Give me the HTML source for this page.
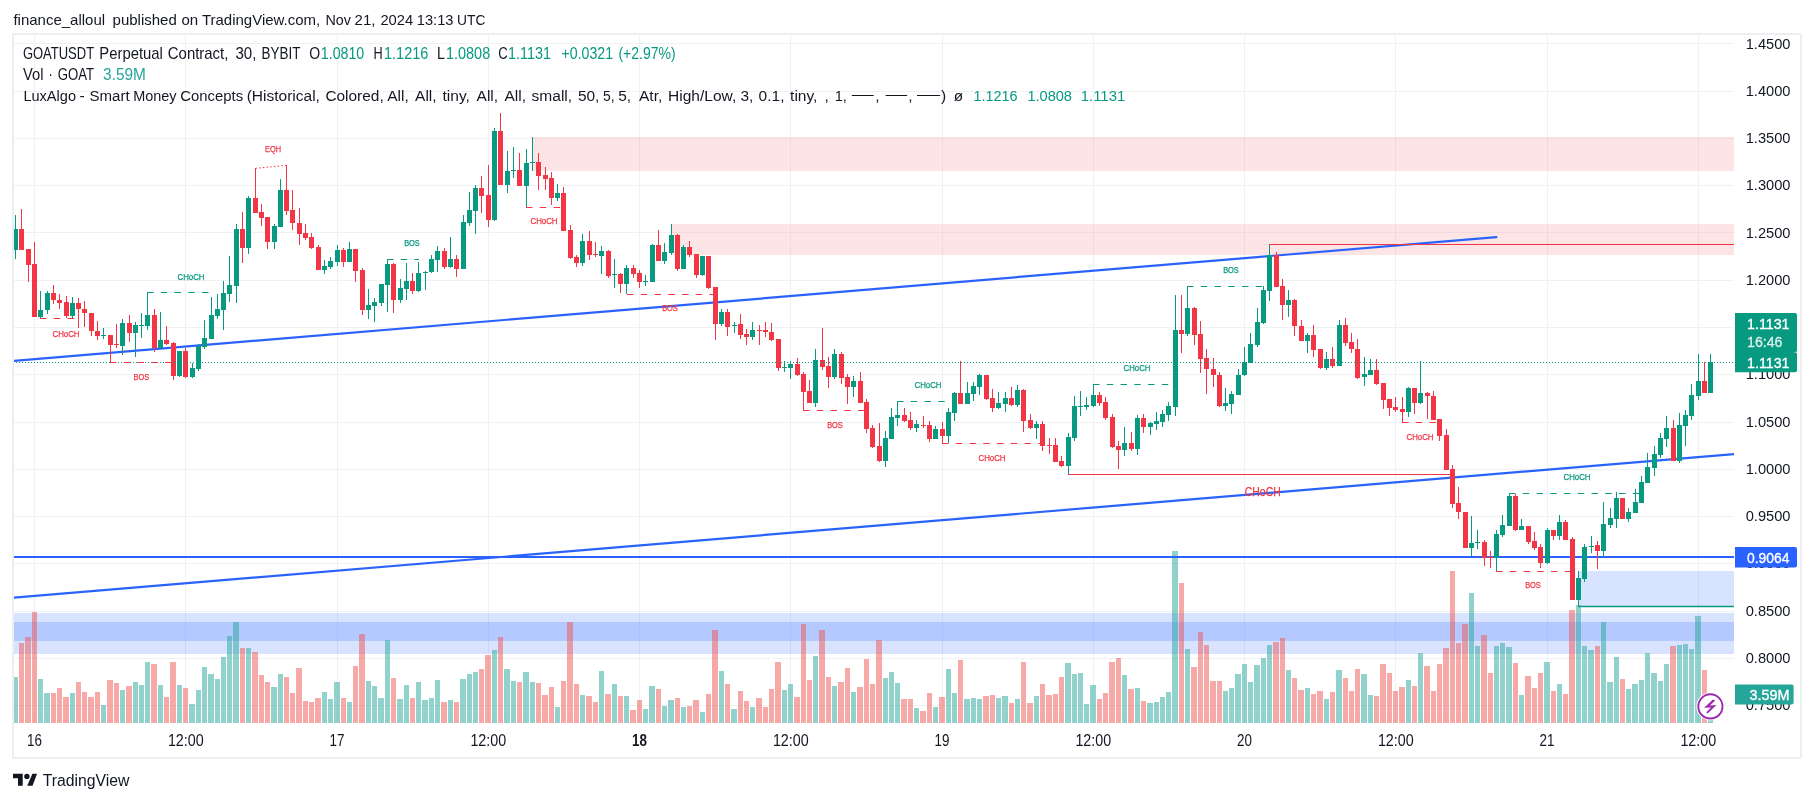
<!DOCTYPE html><html><head><meta charset="utf-8"><title>GOATUSDT chart</title><style>
html,body{margin:0;padding:0;background:#fff;}body{width:1814px;height:802px;overflow:hidden;position:relative;font-family:"Liberation Sans",sans-serif;}
svg{position:absolute;left:0;top:0;will-change:transform;}text{font-family:"Liberation Sans",sans-serif;}
</style></head><body>
<svg width="1814" height="802" viewBox="0 0 1814 802">
<rect x="0" y="0" width="1814" height="802" fill="#ffffff"/>
<path d="M14 43.5H1734M14 91.5H1734M14 138.5H1734M14 185.5H1734M14 232.5H1734M14 280.5H1734M14 327.5H1734M14 374.5H1734M14 422.5H1734M14 469.5H1734M14 516.5H1734M14 563.5H1734M14 611.5H1734M14 658.5H1734M14 705.5H1734M34.5 35V723M185.5 35V723M337.5 35V723M488.5 35V723M639.5 35V723M790.5 35V723M942.5 35V723M1093.5 35V723M1244.5 35V723M1395.5 35V723M1547.5 35V723M1698.5 35V723" stroke="#f0f1f3" stroke-width="1" fill="none" shape-rendering="crispEdges"/>
<rect x="13" y="34" width="1788" height="724" fill="none" stroke="#eceef2" stroke-width="2" shape-rendering="crispEdges"/>
<g clip-path="url(#clip)">
<defs><clipPath id="clip"><rect x="14" y="35" width="1720" height="722"/></clipPath></defs>
<rect x="533" y="137" width="1201" height="34" fill="rgba(247,124,128,0.2)"/>
<rect x="672" y="224" width="1062" height="31" fill="rgba(247,124,128,0.2)"/>
<rect x="14" y="613" width="1720" height="41" fill="rgba(41,98,255,0.18)"/>
<rect x="14" y="622" width="1720" height="19" fill="rgba(41,98,255,0.2)"/>
<rect x="1578" y="571" width="156" height="36" fill="rgba(41,98,255,0.18)"/>
<path d="M1578 606.5H1734" stroke="#089981" stroke-width="1.5" fill="none"/>
<path d="M13 677h5v46h-5zM38 679h5v44h-5zM44 693h6v30h-6zM70 693h5v30h-5zM101 705h5v18h-5zM120 690h5v33h-5zM133 682h5v41h-5zM139 685h5v38h-5zM145 662h5v61h-5zM158 685h5v38h-5zM177 685h5v38h-5zM189 704h6v19h-6zM196 690h5v33h-5zM202 667h5v56h-5zM208 674h6v49h-6zM215 679h5v44h-5zM221 657h5v66h-5zM227 636h5v87h-5zM233 622h6v101h-6zM246 648h5v75h-5zM271 687h6v36h-6zM278 674h5v49h-5zM322 692h5v31h-5zM328 699h5v24h-5zM334 682h6v41h-6zM347 702h5v21h-5zM366 681h5v42h-5zM372 686h5v37h-5zM378 698h6v25h-6zM385 640h5v83h-5zM397 699h6v24h-6zM404 685h5v38h-5zM416 682h5v41h-5zM422 700h6v23h-6zM429 698h5v25h-5zM435 680h5v43h-5zM448 700h5v23h-5zM460 679h6v44h-6zM467 674h5v49h-5zM473 672h5v51h-5zM492 650h5v73h-5zM504 669h6v54h-6zM511 681h5v42h-5zM523 672h6v51h-6zM530 682h5v41h-5zM555 707h5v16h-5zM580 695h5v28h-5zM599 671h5v52h-5zM612 684h5v39h-5zM624 696h5v27h-5zM643 709h5v14h-5zM649 686h6v37h-6zM662 706h5v17h-5zM668 700h6v23h-6zM681 707h5v16h-5zM700 712h5v11h-5zM719 671h5v52h-5zM731 709h6v14h-6zM750 707h5v16h-5zM782 690h5v33h-5zM788 684h5v39h-5zM813 656h5v67h-5zM832 686h5v37h-5zM851 692h5v31h-5zM883 678h5v45h-5zM889 672h5v51h-5zM895 683h5v40h-5zM914 708h5v15h-5zM933 707h5v16h-5zM946 669h5v54h-5zM952 693h5v30h-5zM964 699h6v24h-6zM971 698h5v25h-5zM977 699h5v24h-5zM996 698h5v25h-5zM1002 696h6v27h-6zM1015 699h5v24h-5zM1034 696h5v27h-5zM1065 663h6v60h-6zM1072 674h5v49h-5zM1078 673h5v50h-5zM1084 704h5v19h-5zM1090 685h6v38h-6zM1122 675h5v48h-5zM1135 688h5v35h-5zM1147 703h6v20h-6zM1154 702h5v21h-5zM1160 697h5v26h-5zM1166 692h5v31h-5zM1172 551h6v172h-6zM1185 649h5v74h-5zM1223 691h5v32h-5zM1229 688h5v35h-5zM1235 674h6v49h-6zM1242 664h5v59h-5zM1248 682h5v41h-5zM1254 665h6v58h-6zM1261 658h5v65h-5zM1267 645h5v78h-5zM1286 670h5v53h-5zM1305 688h5v35h-5zM1324 699h5v24h-5zM1336 670h6v53h-6zM1361 674h6v49h-6zM1368 695h5v28h-5zM1406 680h5v43h-5zM1418 653h5v70h-5zM1469 593h5v130h-5zM1475 646h5v77h-5zM1494 646h5v77h-5zM1500 643h5v80h-5zM1506 647h6v76h-6zM1519 695h5v28h-5zM1544 662h6v61h-6zM1557 684h5v39h-5zM1576 605h5v118h-5zM1582 646h5v77h-5zM1588 650h6v73h-6zM1601 622h5v101h-5zM1607 682h6v41h-6zM1614 657h5v66h-5zM1626 689h5v34h-5zM1632 684h6v39h-6zM1639 680h5v43h-5zM1645 653h5v70h-5zM1651 673h6v50h-6zM1658 681h5v42h-5zM1664 664h5v59h-5zM1677 645h5v78h-5zM1683 644h5v79h-5zM1689 649h5v74h-5zM1695 616h6v107h-6zM1708 720h5v3h-5z" fill="rgba(38,166,154,0.5)" shape-rendering="crispEdges"/>
<path d="M19 643h5v80h-5zM25 637h6v86h-6zM32 612h5v111h-5zM51 693h5v30h-5zM57 688h5v35h-5zM63 697h6v26h-6zM76 682h5v41h-5zM82 692h5v31h-5zM88 697h6v26h-6zM95 692h5v31h-5zM107 680h6v43h-6zM114 683h5v40h-5zM126 686h6v37h-6zM151 664h6v59h-6zM164 697h5v26h-5zM170 662h6v61h-6zM183 688h5v35h-5zM240 648h5v75h-5zM252 652h6v71h-6zM259 675h5v48h-5zM265 682h5v41h-5zM284 677h5v46h-5zM290 693h5v30h-5zM296 668h6v55h-6zM303 701h5v22h-5zM309 702h5v21h-5zM315 698h6v25h-6zM341 698h5v25h-5zM353 666h5v57h-5zM359 634h6v89h-6zM391 678h5v45h-5zM410 698h5v25h-5zM441 702h6v21h-6zM454 702h5v21h-5zM479 669h5v54h-5zM485 655h6v68h-6zM498 637h5v86h-5zM517 682h5v41h-5zM536 683h5v40h-5zM542 695h6v28h-6zM549 687h5v36h-5zM561 681h5v42h-5zM567 622h6v101h-6zM574 684h5v39h-5zM586 696h6v27h-6zM593 702h5v21h-5zM605 694h6v29h-6zM618 696h5v27h-5zM630 710h6v13h-6zM637 700h5v23h-5zM656 689h5v34h-5zM675 698h5v25h-5zM687 706h5v17h-5zM693 700h6v23h-6zM706 694h5v29h-5zM712 630h6v93h-6zM725 684h5v39h-5zM738 691h5v32h-5zM744 701h5v22h-5zM756 698h6v25h-6zM763 707h5v16h-5zM769 689h5v34h-5zM775 662h6v61h-6zM794 697h6v26h-6zM801 624h5v99h-5zM807 680h5v43h-5zM819 630h6v93h-6zM826 677h5v46h-5zM838 682h6v41h-6zM845 668h5v55h-5zM857 687h6v36h-6zM864 659h5v64h-5zM870 684h5v39h-5zM876 640h6v83h-6zM901 699h6v24h-6zM908 699h5v24h-5zM920 711h6v12h-6zM927 693h5v30h-5zM939 697h6v26h-6zM958 660h5v63h-5zM983 696h6v27h-6zM990 695h5v28h-5zM1009 703h5v20h-5zM1021 662h5v61h-5zM1027 703h6v20h-6zM1040 684h5v39h-5zM1046 695h6v28h-6zM1053 694h5v29h-5zM1059 677h5v46h-5zM1097 699h5v24h-5zM1103 693h5v30h-5zM1109 662h6v61h-6zM1116 658h5v65h-5zM1128 689h6v34h-6zM1141 701h5v22h-5zM1179 583h5v140h-5zM1191 667h6v56h-6zM1198 632h5v91h-5zM1204 645h5v78h-5zM1210 681h6v42h-6zM1217 681h5v42h-5zM1273 642h6v81h-6zM1280 638h5v85h-5zM1292 678h5v45h-5zM1298 690h6v33h-6zM1311 694h5v29h-5zM1317 691h6v32h-6zM1330 692h5v31h-5zM1343 678h5v45h-5zM1349 691h5v32h-5zM1355 669h5v54h-5zM1374 696h5v27h-5zM1380 664h6v59h-6zM1387 673h5v50h-5zM1393 691h5v32h-5zM1399 687h6v36h-6zM1412 686h5v37h-5zM1424 666h6v57h-6zM1431 691h5v32h-5zM1437 664h5v59h-5zM1443 648h6v75h-6zM1450 571h5v152h-5zM1456 643h5v80h-5zM1462 624h6v99h-6zM1481 635h6v88h-6zM1488 673h5v50h-5zM1513 663h5v60h-5zM1525 676h6v47h-6zM1532 688h5v35h-5zM1538 673h5v50h-5zM1551 691h5v32h-5zM1563 694h5v29h-5zM1569 610h6v113h-6zM1595 646h5v77h-5zM1620 679h5v44h-5zM1670 646h6v77h-6zM1702 670h5v53h-5z" fill="rgba(239,83,80,0.5)" shape-rendering="crispEdges"/>
<path d="M13 361L1496.4 237.1" stroke="#2962ff" stroke-width="2.2" fill="none" stroke-linecap="round"/>
<path d="M13 597.7L1734 454.1" stroke="#2962ff" stroke-width="2.2" fill="none"/>
<path d="M14 557H1734" stroke="#2962ff" stroke-width="2" fill="none"/>
<path d="M15 215h1v44h-1zM40 291h1v28h-1zM47 291h1v23h-1zM72 297h1v22h-1zM103 328h1v11h-1zM122 319h1v36h-1zM135 322h1v35h-1zM141 313h1v25h-1zM147 292h1v38h-1zM160 312h1v36h-1zM179 351h1v26h-1zM192 363h1v15h-1zM198 344h1v27h-1zM204 320h1v29h-1zM211 297h1v42h-1zM217 294h1v25h-1zM223 281h1v49h-1zM229 256h1v46h-1zM236 224h1v79h-1zM248 196h1v58h-1zM274 224h1v25h-1zM280 179h1v48h-1zM324 260h1v14h-1zM330 257h1v12h-1zM337 245h1v21h-1zM349 242h1v20h-1zM368 289h1v30h-1zM374 298h1v24h-1zM381 284h1v22h-1zM387 259h1v53h-1zM400 279h1v24h-1zM406 263h1v37h-1zM418 262h1v30h-1zM425 271h1v19h-1zM431 255h1v18h-1zM437 246h1v26h-1zM450 237h1v31h-1zM463 215h1v54h-1zM469 192h1v34h-1zM475 185h1v49h-1zM494 128h1v93h-1zM507 151h1v42h-1zM513 147h1v31h-1zM526 149h1v58h-1zM532 137h1v34h-1zM557 184h1v17h-1zM582 234h1v32h-1zM601 246h1v28h-1zM614 259h1v29h-1zM626 265h1v29h-1zM645 275h1v11h-1zM652 244h1v38h-1zM664 243h1v21h-1zM671 224h1v31h-1zM683 245h1v24h-1zM702 256h1v20h-1zM721 309h1v17h-1zM734 322h1v11h-1zM752 322h1v18h-1zM784 361h1v11h-1zM790 361h1v18h-1zM815 349h1v58h-1zM834 349h1v30h-1zM853 376h1v21h-1zM885 431h1v36h-1zM891 408h1v31h-1zM897 401h1v25h-1zM916 420h1v12h-1zM935 426h1v13h-1zM948 408h1v35h-1zM954 392h1v29h-1zM967 382h1v22h-1zM973 382h1v19h-1zM979 374h1v21h-1zM998 392h1v17h-1zM1005 392h1v20h-1zM1017 385h1v22h-1zM1036 421h1v18h-1zM1068 433h1v42h-1zM1074 396h1v45h-1zM1080 391h1v25h-1zM1086 397h1v13h-1zM1093 384h1v23h-1zM1124 427h1v29h-1zM1137 415h1v40h-1zM1150 422h1v13h-1zM1156 412h1v18h-1zM1162 410h1v17h-1zM1168 402h1v19h-1zM1175 295h1v121h-1zM1187 286h1v50h-1zM1225 388h1v23h-1zM1231 391h1v23h-1zM1238 369h1v26h-1zM1244 347h1v29h-1zM1250 333h1v30h-1zM1257 308h1v39h-1zM1263 286h1v38h-1zM1269 244h1v57h-1zM1288 290h1v27h-1zM1307 333h1v20h-1zM1326 352h1v18h-1zM1339 320h1v46h-1zM1364 357h1v29h-1zM1370 359h1v16h-1zM1408 387h1v30h-1zM1420 361h1v43h-1zM1471 516h1v40h-1zM1477 530h1v19h-1zM1496 530h1v41h-1zM1502 515h1v22h-1zM1509 494h1v32h-1zM1521 519h1v11h-1zM1547 528h1v36h-1zM1559 515h1v25h-1zM1578 571h1v36h-1zM1584 544h1v38h-1zM1591 536h1v17h-1zM1603 502h1v55h-1zM1610 508h1v20h-1zM1616 492h1v36h-1zM1628 508h1v14h-1zM1635 489h1v24h-1zM1641 476h1v27h-1zM1647 453h1v30h-1zM1654 446h1v30h-1zM1660 433h1v25h-1zM1666 416h1v31h-1zM1679 413h1v50h-1zM1685 410h1v36h-1zM1691 384h1v36h-1zM1698 354h1v46h-1zM1710 354h1v39h-1zM13 229h5v21h-5zM38 310h5v7h-5zM45 293h5v17h-5zM70 303h5v13h-5zM101 335h5v1h-5zM120 323h5v23h-5zM133 325h5v8h-5zM139 325h5v1h-5zM145 315h5v11h-5zM158 340h5v8h-5zM177 351h5v25h-5zM190 368h5v9h-5zM196 346h5v23h-5zM202 338h5v9h-5zM209 315h5v24h-5zM215 309h5v7h-5zM221 293h5v17h-5zM227 285h5v9h-5zM234 229h5v57h-5zM246 198h5v50h-5zM272 226h5v16h-5zM278 190h5v37h-5zM322 266h5v4h-5zM328 261h5v6h-5zM335 250h5v12h-5zM347 249h5v13h-5zM366 305h5v5h-5zM372 302h5v4h-5zM379 284h5v19h-5zM385 264h5v21h-5zM398 288h5v12h-5zM404 281h5v8h-5zM416 273h5v18h-5zM423 272h5v1h-5zM429 259h5v13h-5zM435 251h5v9h-5zM448 259h5v8h-5zM461 222h5v47h-5zM467 210h5v13h-5zM473 188h5v23h-5zM492 131h5v89h-5zM505 171h5v14h-5zM511 170h5v1h-5zM524 163h5v23h-5zM530 162h5v1h-5zM555 193h5v5h-5zM580 241h5v22h-5zM599 251h5v5h-5zM612 274h5v1h-5zM624 268h5v16h-5zM643 281h5v1h-5zM650 245h5v37h-5zM662 252h5v9h-5zM669 235h5v18h-5zM681 247h5v22h-5zM700 256h5v19h-5zM719 312h5v12h-5zM732 325h5v1h-5zM750 330h5v7h-5zM782 367h5v1h-5zM788 364h5v4h-5zM813 360h5v43h-5zM832 354h5v23h-5zM851 381h5v6h-5zM883 438h5v23h-5zM889 417h5v22h-5zM895 415h5v3h-5zM914 424h5v4h-5zM933 429h5v10h-5zM946 412h5v24h-5zM952 393h5v20h-5zM965 393h5v11h-5zM971 386h5v8h-5zM977 375h5v12h-5zM996 403h5v5h-5zM1003 398h5v6h-5zM1015 390h5v15h-5zM1034 424h5v4h-5zM1066 437h5v29h-5zM1072 406h5v32h-5zM1078 406h5v1h-5zM1084 405h5v2h-5zM1091 395h5v11h-5zM1122 443h5v7h-5zM1135 418h5v31h-5zM1148 423h5v4h-5zM1154 421h5v3h-5zM1160 414h5v8h-5zM1166 406h5v9h-5zM1173 330h5v77h-5zM1185 308h5v26h-5zM1223 403h5v3h-5zM1229 394h5v10h-5zM1236 375h5v20h-5zM1242 362h5v13h-5zM1248 344h5v19h-5zM1255 322h5v23h-5zM1261 290h5v33h-5zM1267 255h5v36h-5zM1286 300h5v5h-5zM1305 335h5v6h-5zM1324 359h5v9h-5zM1337 325h5v41h-5zM1362 374h5v3h-5zM1368 370h5v5h-5zM1406 388h5v24h-5zM1418 393h5v10h-5zM1469 543h5v5h-5zM1475 542h5v1h-5zM1494 534h5v24h-5zM1500 525h5v10h-5zM1507 496h5v30h-5zM1519 526h5v4h-5zM1545 530h5v33h-5zM1557 522h5v14h-5zM1576 578h5v22h-5zM1582 547h5v32h-5zM1589 546h5v1h-5zM1601 524h5v27h-5zM1608 518h5v7h-5zM1614 498h5v21h-5zM1626 512h5v7h-5zM1633 502h5v11h-5zM1639 482h5v21h-5zM1645 467h5v16h-5zM1652 454h5v14h-5zM1658 438h5v17h-5zM1664 428h5v11h-5zM1677 425h5v36h-5zM1683 415h5v11h-5zM1689 395h5v21h-5zM1696 381h5v15h-5zM1708 362h5v31h-5z" fill="#089981" shape-rendering="crispEdges"/>
<path d="M21 209h1v41h-1zM28 249h1v33h-1zM34 242h1v75h-1zM53 285h1v19h-1zM59 294h1v15h-1zM66 296h1v22h-1zM78 298h1v30h-1zM84 301h1v26h-1zM91 313h1v23h-1zM97 321h1v19h-1zM110 335h1v28h-1zM116 324h1v24h-1zM129 315h1v27h-1zM154 309h1v43h-1zM166 326h1v19h-1zM173 342h1v38h-1zM185 348h1v30h-1zM242 212h1v51h-1zM255 168h1v45h-1zM261 204h1v22h-1zM267 217h1v32h-1zM286 165h1v50h-1zM292 190h1v40h-1zM299 208h1v37h-1zM305 224h1v16h-1zM311 233h1v16h-1zM318 245h1v25h-1zM343 248h1v19h-1zM355 249h1v33h-1zM362 268h1v47h-1zM393 263h1v50h-1zM412 273h1v21h-1zM444 248h1v21h-1zM456 255h1v22h-1zM481 176h1v37h-1zM488 165h1v62h-1zM500 113h1v72h-1zM519 153h1v33h-1zM538 153h1v37h-1zM545 167h1v23h-1zM551 172h1v33h-1zM563 187h1v44h-1zM570 225h1v34h-1zM576 255h1v12h-1zM589 231h1v29h-1zM595 242h1v15h-1zM608 250h1v28h-1zM620 273h1v20h-1zM633 265h1v13h-1zM639 270h1v18h-1zM658 230h1v31h-1zM677 234h1v37h-1zM689 241h1v16h-1zM696 254h1v24h-1zM708 256h1v33h-1zM715 287h1v53h-1zM727 309h1v27h-1zM740 314h1v25h-1zM746 329h1v16h-1zM759 325h1v20h-1zM765 322h1v15h-1zM771 323h1v18h-1zM778 339h1v32h-1zM797 358h1v18h-1zM803 372h1v38h-1zM809 380h1v23h-1zM822 328h1v42h-1zM828 357h1v31h-1zM841 352h1v32h-1zM847 374h1v30h-1zM860 372h1v31h-1zM866 399h1v34h-1zM872 425h1v23h-1zM879 423h1v39h-1zM904 408h1v14h-1zM910 412h1v18h-1zM923 416h1v12h-1zM929 421h1v21h-1zM942 422h1v21h-1zM960 361h1v43h-1zM986 375h1v25h-1zM992 389h1v23h-1zM1011 387h1v19h-1zM1023 389h1v43h-1zM1030 414h1v15h-1zM1042 421h1v30h-1zM1049 438h1v16h-1zM1055 438h1v24h-1zM1061 456h1v11h-1zM1099 392h1v14h-1zM1105 397h1v23h-1zM1112 414h1v34h-1zM1118 441h1v28h-1zM1131 432h1v19h-1zM1143 414h1v19h-1zM1181 295h1v58h-1zM1194 307h1v38h-1zM1200 321h1v52h-1zM1206 349h1v45h-1zM1213 358h1v29h-1zM1219 372h1v35h-1zM1276 252h1v35h-1zM1282 279h1v41h-1zM1294 299h1v37h-1zM1301 320h1v21h-1zM1313 325h1v32h-1zM1320 349h1v20h-1zM1332 347h1v21h-1zM1345 318h1v28h-1zM1351 333h1v20h-1zM1357 339h1v40h-1zM1376 359h1v26h-1zM1383 383h1v26h-1zM1389 399h1v17h-1zM1395 397h1v15h-1zM1402 397h1v25h-1zM1414 388h1v26h-1zM1427 392h1v27h-1zM1433 391h1v29h-1zM1439 419h1v22h-1zM1446 429h1v41h-1zM1452 465h1v43h-1zM1458 487h1v32h-1zM1465 512h1v36h-1zM1484 540h1v26h-1zM1490 551h1v17h-1zM1515 494h1v37h-1zM1528 526h1v18h-1zM1534 532h1v18h-1zM1540 544h1v24h-1zM1553 530h1v10h-1zM1565 520h1v20h-1zM1572 537h1v63h-1zM1597 541h1v28h-1zM1622 498h1v21h-1zM1673 420h1v41h-1zM1704 362h1v31h-1zM19 229h5v21h-5zM26 249h5v16h-5zM32 264h5v53h-5zM51 293h5v7h-5zM57 300h5v3h-5zM64 302h5v14h-5zM76 303h5v6h-5zM82 309h5v4h-5zM89 313h5v18h-5zM95 331h5v5h-5zM108 335h5v10h-5zM114 344h5v1h-5zM127 323h5v10h-5zM152 315h5v33h-5zM164 340h5v4h-5zM171 343h5v33h-5zM183 351h5v26h-5zM240 229h5v19h-5zM253 198h5v15h-5zM259 212h5v6h-5zM265 217h5v25h-5zM284 190h5v21h-5zM290 210h5v13h-5zM297 223h5v11h-5zM303 233h5v5h-5zM309 237h5v11h-5zM316 247h5v23h-5zM341 250h5v12h-5zM353 249h5v22h-5zM360 270h5v40h-5zM391 264h5v36h-5zM410 281h5v10h-5zM442 251h5v16h-5zM454 259h5v10h-5zM479 188h5v8h-5zM486 195h5v25h-5zM498 131h5v54h-5zM517 170h5v16h-5zM536 162h5v14h-5zM543 175h5v4h-5zM549 178h5v20h-5zM561 193h5v38h-5zM568 230h5v28h-5zM574 257h5v6h-5zM587 241h5v14h-5zM593 254h5v1h-5zM606 251h5v25h-5zM618 274h5v10h-5zM631 268h5v6h-5zM637 273h5v9h-5zM656 245h5v16h-5zM675 235h5v34h-5zM687 247h5v8h-5zM694 254h5v21h-5zM706 256h5v32h-5zM713 287h5v37h-5zM725 312h5v15h-5zM738 324h5v11h-5zM744 334h5v3h-5zM757 330h5v1h-5zM763 330h5v2h-5zM769 332h5v8h-5zM776 339h5v29h-5zM795 364h5v11h-5zM801 374h5v18h-5zM807 391h5v12h-5zM820 360h5v7h-5zM826 366h5v11h-5zM839 354h5v24h-5zM845 377h5v10h-5zM858 381h5v22h-5zM864 402h5v27h-5zM870 428h5v19h-5zM877 446h5v15h-5zM902 415h5v6h-5zM908 420h5v8h-5zM921 425h5v1h-5zM927 425h5v14h-5zM940 429h5v7h-5zM958 393h5v11h-5zM984 375h5v24h-5zM990 398h5v10h-5zM1009 398h5v7h-5zM1021 390h5v31h-5zM1028 420h5v8h-5zM1040 424h5v22h-5zM1047 445h5v1h-5zM1053 445h5v17h-5zM1059 461h5v5h-5zM1097 395h5v8h-5zM1103 402h5v16h-5zM1110 417h5v30h-5zM1116 446h5v4h-5zM1129 443h5v6h-5zM1141 418h5v9h-5zM1179 330h5v4h-5zM1192 308h5v27h-5zM1198 334h5v25h-5zM1204 358h5v11h-5zM1211 369h5v6h-5zM1217 375h5v31h-5zM1274 255h5v32h-5zM1280 286h5v19h-5zM1292 300h5v26h-5zM1299 326h5v15h-5zM1311 335h5v15h-5zM1318 349h5v19h-5zM1330 359h5v7h-5zM1343 325h5v18h-5zM1349 342h5v7h-5zM1355 349h5v29h-5zM1374 370h5v14h-5zM1381 383h5v17h-5zM1387 399h5v9h-5zM1393 407h5v3h-5zM1400 409h5v3h-5zM1412 388h5v15h-5zM1425 393h5v3h-5zM1431 396h5v24h-5zM1437 419h5v17h-5zM1444 435h5v35h-5zM1450 469h5v35h-5zM1456 503h5v9h-5zM1463 512h5v36h-5zM1482 542h5v16h-5zM1488 557h5v1h-5zM1513 496h5v34h-5zM1526 526h5v16h-5zM1532 541h5v7h-5zM1538 547h5v16h-5zM1551 530h5v6h-5zM1563 522h5v18h-5zM1570 539h5v61h-5zM1595 545h5v6h-5zM1620 498h5v21h-5zM1671 428h5v33h-5zM1702 381h5v12h-5z" fill="#f23645" shape-rendering="crispEdges"/>
<path d="M14 362.5H1734" stroke="#089981" stroke-width="1" stroke-dasharray="1 2" stroke-dashoffset="1" fill="none" shape-rendering="crispEdges"/>
<path d="M40 318.5H79" stroke="#f23645" stroke-width="1" stroke-dasharray="6.5 7.25" fill="none"/>
<path d="M110 362.5H173" stroke="#f23645" stroke-width="1" stroke-dasharray="6.5 7.25" fill="none"/>
<path d="M147 292.5H211" stroke="#089981" stroke-width="1" stroke-dasharray="6.5 7.25" fill="none"/>
<path d="M255.5 168.3L286.4 165.4" stroke="#f23645" stroke-width="1" stroke-dasharray="1.5 2.2" fill="none"/>
<path d="M387 259.5H419" stroke="#089981" stroke-width="1" stroke-dasharray="6.5 7.25" fill="none"/>
<path d="M526 207.5H564" stroke="#f23645" stroke-width="1" stroke-dasharray="6.5 7.25" fill="none"/>
<path d="M627 294.5H715" stroke="#f23645" stroke-width="1" stroke-dasharray="6.5 7.25" fill="none"/>
<path d="M803 410.5H867" stroke="#f23645" stroke-width="1" stroke-dasharray="6.5 7.25" fill="none"/>
<path d="M897 401.5H949" stroke="#089981" stroke-width="1" stroke-dasharray="6.5 7.25" fill="none"/>
<path d="M942 443.5H1043" stroke="#f23645" stroke-width="1" stroke-dasharray="6.5 7.25" fill="none"/>
<path d="M1093 384.5H1169" stroke="#089981" stroke-width="1" stroke-dasharray="6.5 7.25" fill="none"/>
<path d="M1187 286.5H1264" stroke="#089981" stroke-width="1" stroke-dasharray="6.5 7.25" fill="none"/>
<path d="M1068 474.5H1452" stroke="#f23645" stroke-width="1" fill="none"/>
<path d="M1269 244.5H1734" stroke="#f23645" stroke-width="1" fill="none"/>
<path d="M1402 422.5H1440" stroke="#f23645" stroke-width="1" stroke-dasharray="6.5 7.25" fill="none"/>
<path d="M1496 571.5H1572" stroke="#f23645" stroke-width="1" stroke-dasharray="6.5 7.25" fill="none"/>
<path d="M1509 493.5H1642" stroke="#089981" stroke-width="1" stroke-dasharray="6.5 7.25" fill="none"/>
</g>
<text x="66" y="337" font-size="8.5" fill="#f23645" stroke="#f23645" stroke-width="0.25" text-anchor="middle" textLength="27" lengthAdjust="spacingAndGlyphs">CHoCH</text>
<text x="141.3" y="380" font-size="8.5" fill="#f23645" stroke="#f23645" stroke-width="0.25" text-anchor="middle" textLength="15.6" lengthAdjust="spacingAndGlyphs">BOS</text>
<text x="191" y="280" font-size="8.5" fill="#089981" stroke="#089981" stroke-width="0.25" text-anchor="middle" textLength="27" lengthAdjust="spacingAndGlyphs">CHoCH</text>
<text x="273" y="152" font-size="8.5" fill="#f23645" stroke="#f23645" stroke-width="0.25" text-anchor="middle" textLength="16" lengthAdjust="spacingAndGlyphs">EQH</text>
<text x="412" y="246" font-size="8.5" fill="#089981" stroke="#089981" stroke-width="0.25" text-anchor="middle" textLength="15.6" lengthAdjust="spacingAndGlyphs">BOS</text>
<text x="544" y="224" font-size="8.5" fill="#f23645" stroke="#f23645" stroke-width="0.25" text-anchor="middle" textLength="27" lengthAdjust="spacingAndGlyphs">CHoCH</text>
<text x="670" y="311" font-size="8.5" fill="#f23645" stroke="#f23645" stroke-width="0.25" text-anchor="middle" textLength="15.6" lengthAdjust="spacingAndGlyphs">BOS</text>
<text x="835" y="428" font-size="8.5" fill="#f23645" stroke="#f23645" stroke-width="0.25" text-anchor="middle" textLength="15.6" lengthAdjust="spacingAndGlyphs">BOS</text>
<text x="928" y="388" font-size="8.5" fill="#089981" stroke="#089981" stroke-width="0.25" text-anchor="middle" textLength="27" lengthAdjust="spacingAndGlyphs">CHoCH</text>
<text x="992" y="461" font-size="8.5" fill="#f23645" stroke="#f23645" stroke-width="0.25" text-anchor="middle" textLength="27" lengthAdjust="spacingAndGlyphs">CHoCH</text>
<text x="1137" y="371" font-size="8.5" fill="#089981" stroke="#089981" stroke-width="0.25" text-anchor="middle" textLength="27" lengthAdjust="spacingAndGlyphs">CHoCH</text>
<text x="1231" y="273" font-size="8.5" fill="#089981" stroke="#089981" stroke-width="0.25" text-anchor="middle" textLength="15.6" lengthAdjust="spacingAndGlyphs">BOS</text>
<text x="1262.75" y="495.8" font-size="12.7" fill="#f23645" stroke="#f23645" stroke-width="0.25" text-anchor="middle" textLength="35.9" lengthAdjust="spacingAndGlyphs">CHoCH</text>
<text x="1420" y="440" font-size="8.5" fill="#f23645" stroke="#f23645" stroke-width="0.25" text-anchor="middle" textLength="27" lengthAdjust="spacingAndGlyphs">CHoCH</text>
<text x="1533" y="588" font-size="8.5" fill="#f23645" stroke="#f23645" stroke-width="0.25" text-anchor="middle" textLength="15.6" lengthAdjust="spacingAndGlyphs">BOS</text>
<text x="1577" y="480" font-size="8.5" fill="#089981" stroke="#089981" stroke-width="0.25" text-anchor="middle" textLength="27" lengthAdjust="spacingAndGlyphs">CHoCH</text>
<text x="1790.5" y="48.80" font-size="15" fill="#131722" text-anchor="end" textLength="44.8" lengthAdjust="spacingAndGlyphs">1.4500</text>
<text x="1790.5" y="96.03" font-size="15" fill="#131722" text-anchor="end" textLength="44.8" lengthAdjust="spacingAndGlyphs">1.4000</text>
<text x="1790.5" y="143.26" font-size="15" fill="#131722" text-anchor="end" textLength="44.8" lengthAdjust="spacingAndGlyphs">1.3500</text>
<text x="1790.5" y="190.49" font-size="15" fill="#131722" text-anchor="end" textLength="44.8" lengthAdjust="spacingAndGlyphs">1.3000</text>
<text x="1790.5" y="237.72" font-size="15" fill="#131722" text-anchor="end" textLength="44.8" lengthAdjust="spacingAndGlyphs">1.2500</text>
<text x="1790.5" y="284.95" font-size="15" fill="#131722" text-anchor="end" textLength="44.8" lengthAdjust="spacingAndGlyphs">1.2000</text>
<text x="1790.5" y="332.18" font-size="15" fill="#131722" text-anchor="end" textLength="44.8" lengthAdjust="spacingAndGlyphs">1.1500</text>
<text x="1790.5" y="379.41" font-size="15" fill="#131722" text-anchor="end" textLength="44.8" lengthAdjust="spacingAndGlyphs">1.1000</text>
<text x="1790.5" y="426.64" font-size="15" fill="#131722" text-anchor="end" textLength="44.8" lengthAdjust="spacingAndGlyphs">1.0500</text>
<text x="1790.5" y="473.87" font-size="15" fill="#131722" text-anchor="end" textLength="44.8" lengthAdjust="spacingAndGlyphs">1.0000</text>
<text x="1790.5" y="521.10" font-size="15" fill="#131722" text-anchor="end" textLength="44.8" lengthAdjust="spacingAndGlyphs">0.9500</text>
<text x="1790.5" y="568.33" font-size="15" fill="#131722" text-anchor="end" textLength="44.8" lengthAdjust="spacingAndGlyphs">0.9000</text>
<text x="1790.5" y="615.56" font-size="15" fill="#131722" text-anchor="end" textLength="44.8" lengthAdjust="spacingAndGlyphs">0.8500</text>
<text x="1790.5" y="662.79" font-size="15" fill="#131722" text-anchor="end" textLength="44.8" lengthAdjust="spacingAndGlyphs">0.8000</text>
<text x="1790.5" y="710.02" font-size="15" fill="#131722" text-anchor="end" textLength="44.8" lengthAdjust="spacingAndGlyphs">0.7500</text>
<text x="34.5" y="746" font-size="15.7" fill="#131722" text-anchor="middle" textLength="14.9" lengthAdjust="spacingAndGlyphs">16</text>
<text x="185.8" y="746" font-size="15.7" fill="#131722" text-anchor="middle" textLength="35.8" lengthAdjust="spacingAndGlyphs">12:00</text>
<text x="337.0" y="746" font-size="15.7" fill="#131722" text-anchor="middle" textLength="14.9" lengthAdjust="spacingAndGlyphs">17</text>
<text x="488.3" y="746" font-size="15.7" fill="#131722" text-anchor="middle" textLength="35.8" lengthAdjust="spacingAndGlyphs">12:00</text>
<text x="639.5" y="746" font-size="15.7" fill="#131722" text-anchor="middle" textLength="14.9" lengthAdjust="spacingAndGlyphs" font-weight="bold">18</text>
<text x="790.8" y="746" font-size="15.7" fill="#131722" text-anchor="middle" textLength="35.8" lengthAdjust="spacingAndGlyphs">12:00</text>
<text x="942.0" y="746" font-size="15.7" fill="#131722" text-anchor="middle" textLength="14.9" lengthAdjust="spacingAndGlyphs">19</text>
<text x="1093.3" y="746" font-size="15.7" fill="#131722" text-anchor="middle" textLength="35.8" lengthAdjust="spacingAndGlyphs">12:00</text>
<text x="1244.5" y="746" font-size="15.7" fill="#131722" text-anchor="middle" textLength="14.9" lengthAdjust="spacingAndGlyphs">20</text>
<text x="1395.8" y="746" font-size="15.7" fill="#131722" text-anchor="middle" textLength="35.8" lengthAdjust="spacingAndGlyphs">12:00</text>
<text x="1547.0" y="746" font-size="15.7" fill="#131722" text-anchor="middle" textLength="14.9" lengthAdjust="spacingAndGlyphs">21</text>
<text x="1698.3" y="746" font-size="15.7" fill="#131722" text-anchor="middle" textLength="35.8" lengthAdjust="spacingAndGlyphs">12:00</text>
<path d="M1735 313h60a2 2 0 0 1 2 2v35.2a2 2 0 0 1 -2 2h-60z" fill="#089981"/>
<path d="M1735 352.2h60a2 2 0 0 1 2 2v16.1a2 2 0 0 1 -2 2h-60z" fill="#089981"/>
<rect x="1735" y="350" width="58" height="5" fill="#089981"/>
<text x="1789.5" y="328.8" font-size="15.2" fill="#ffffff" stroke="#ffffff" stroke-width="0.35" text-anchor="end" textLength="42.5" lengthAdjust="spacingAndGlyphs">1.1131</text>
<text x="1747" y="346.9" font-size="15.2" fill="rgba(255,255,255,0.8)" stroke="rgba(255,255,255,0.8)" stroke-width="0.3" textLength="35.5" lengthAdjust="spacingAndGlyphs">16:46</text>
<text x="1789.5" y="367.8" font-size="15.2" fill="#ffffff" stroke="#ffffff" stroke-width="0.35" text-anchor="end" textLength="42.5" lengthAdjust="spacingAndGlyphs">1.1131</text>
<path d="M1735 547h60a2 2 0 0 1 2 2v16.6a2 2 0 0 1 -2 2h-60z" fill="#2962ff"/>
<text x="1789.5" y="562.5" font-size="15.2" fill="#ffffff" stroke="#ffffff" stroke-width="0.35" text-anchor="end" textLength="42.5" lengthAdjust="spacingAndGlyphs">0.9064</text>
<path d="M1735 684.4h56.6a2 2 0 0 1 2 2v16.1a2 2 0 0 1 -2 2h-56.6z" fill="#26a69a"/>
<text x="1789.5" y="699.5" font-size="15.2" fill="#ffffff" stroke="#ffffff" stroke-width="0.35" text-anchor="end" textLength="40" lengthAdjust="spacingAndGlyphs">3.59M</text>
<circle cx="1710.4" cy="706.4" r="14" fill="#ffffff"/>
<circle cx="1710.4" cy="706.4" r="12.1" fill="#ffffff" stroke="#9c27b0" stroke-width="1.9"/>
<path d="M1713.0 699.4L1715.2 700.4L1710.0 705.4L1716.8 705.0L1714.9 706.6L1707.6 713.4L1706.3 712.2L1711.0 707.4L1704.0 707.8L1706.0 706.0Z" fill="#9c27b0"/>
<text x="13.4" y="24.9" font-size="15" fill="#131722" textLength="91.7" lengthAdjust="spacingAndGlyphs">finance_alloul</text><text x="112.6" y="24.9" font-size="15" fill="#131722" textLength="64.2" lengthAdjust="spacingAndGlyphs">published</text><text x="181.4" y="24.9" font-size="15" fill="#131722" textLength="16.7" lengthAdjust="spacingAndGlyphs">on</text><text x="201.9" y="24.9" font-size="15" fill="#131722" textLength="118.4" lengthAdjust="spacingAndGlyphs">TradingView.com,</text><text x="325.5" y="24.9" font-size="15" fill="#131722" textLength="25.5" lengthAdjust="spacingAndGlyphs">Nov</text><text x="354.6" y="24.9" font-size="15" fill="#131722" textLength="20.9" lengthAdjust="spacingAndGlyphs">21,</text><text x="380.4" y="24.9" font-size="15" fill="#131722" textLength="32.8" lengthAdjust="spacingAndGlyphs">2024</text><text x="416.8" y="24.9" font-size="15" fill="#131722" textLength="36.7" lengthAdjust="spacingAndGlyphs">13:13</text><text x="457.1" y="24.9" font-size="15" fill="#131722" textLength="28.4" lengthAdjust="spacingAndGlyphs">UTC</text>
<text x="22.9" y="59.1" font-size="15.7" fill="#131722" textLength="71.2" lengthAdjust="spacingAndGlyphs">GOATUSDT</text>
<text x="99.3" y="59.1" font-size="15.7" fill="#131722" textLength="63.6" lengthAdjust="spacingAndGlyphs">Perpetual</text>
<text x="167.8" y="59.1" font-size="15.7" fill="#131722" textLength="60.6" lengthAdjust="spacingAndGlyphs">Contract,</text>
<text x="235.5" y="59.1" font-size="15.7" fill="#131722" textLength="20.9" lengthAdjust="spacingAndGlyphs">30,</text>
<text x="261.6" y="59.1" font-size="15.7" fill="#131722" textLength="38.8" lengthAdjust="spacingAndGlyphs">BYBIT</text>
<text x="309.2" y="59.1" font-size="15.7" fill="#131722" textLength="10.9" lengthAdjust="spacingAndGlyphs">O</text>
<text x="320.8" y="59.1" font-size="15.7" fill="#089981" textLength="43.4" lengthAdjust="spacingAndGlyphs">1.0810</text>
<text x="373.4" y="59.1" font-size="15.7" fill="#131722" textLength="9.2" lengthAdjust="spacingAndGlyphs">H</text>
<text x="384.0" y="59.1" font-size="15.7" fill="#089981" textLength="44.4" lengthAdjust="spacingAndGlyphs">1.1216</text>
<text x="437.1" y="59.1" font-size="15.7" fill="#131722" textLength="7.9" lengthAdjust="spacingAndGlyphs">L</text>
<text x="446.0" y="59.1" font-size="15.7" fill="#089981" textLength="44.2" lengthAdjust="spacingAndGlyphs">1.0808</text>
<text x="498.2" y="59.1" font-size="15.7" fill="#131722" textLength="9.5" lengthAdjust="spacingAndGlyphs">C</text>
<text x="508.1" y="59.1" font-size="15.7" fill="#089981" textLength="42.9" lengthAdjust="spacingAndGlyphs">1.1131</text>
<text x="561.6" y="59.1" font-size="15.7" fill="#089981" textLength="51.4" lengthAdjust="spacingAndGlyphs">+0.0321</text>
<text x="618.4" y="59.1" font-size="15.7" fill="#089981" textLength="57.4" lengthAdjust="spacingAndGlyphs">(+2.97%)</text>
<text x="23.1" y="80.4" font-size="15.7" fill="#131722" textLength="20.5" lengthAdjust="spacingAndGlyphs">Vol</text>
<text x="48.6" y="80.4" font-size="15.7" fill="#131722" textLength="4.2" lengthAdjust="spacingAndGlyphs">·</text>
<text x="57.8" y="80.4" font-size="15.7" fill="#131722" textLength="36.3" lengthAdjust="spacingAndGlyphs">GOAT</text>
<text x="103.1" y="80.4" font-size="15.7" fill="#26a69a" textLength="42.8" lengthAdjust="spacingAndGlyphs">3.59M</text>
<text x="23.4" y="100.9" font-size="15.5" fill="#131722" textLength="52.6" lengthAdjust="spacingAndGlyphs">LuxAlgo</text><text x="79.6" y="100.9" font-size="15.5" fill="#131722" textLength="5.2" lengthAdjust="spacingAndGlyphs">-</text><text x="89.5" y="100.9" font-size="15.5" fill="#131722" textLength="40.1" lengthAdjust="spacingAndGlyphs">Smart</text><text x="133.2" y="100.9" font-size="15.5" fill="#131722" textLength="43.4" lengthAdjust="spacingAndGlyphs">Money</text><text x="180.2" y="100.9" font-size="15.5" fill="#131722" textLength="62.9" lengthAdjust="spacingAndGlyphs">Concepts</text><text x="246.7" y="100.9" font-size="15.5" fill="#131722" textLength="73.2" lengthAdjust="spacingAndGlyphs">(Historical,</text><text x="325.4" y="100.9" font-size="15.5" fill="#131722" textLength="58.3" lengthAdjust="spacingAndGlyphs">Colored,</text><text x="387.3" y="100.9" font-size="15.5" fill="#131722" textLength="21.5" lengthAdjust="spacingAndGlyphs">All,</text><text x="415.1" y="100.9" font-size="15.5" fill="#131722" textLength="21.5" lengthAdjust="spacingAndGlyphs">All,</text><text x="442.5" y="100.9" font-size="15.5" fill="#131722" textLength="27.3" lengthAdjust="spacingAndGlyphs">tiny,</text><text x="476.6" y="100.9" font-size="15.5" fill="#131722" textLength="21.5" lengthAdjust="spacingAndGlyphs">All,</text><text x="504.5" y="100.9" font-size="15.5" fill="#131722" textLength="21.5" lengthAdjust="spacingAndGlyphs">All,</text><text x="531.6" y="100.9" font-size="15.5" fill="#131722" textLength="40.5" lengthAdjust="spacingAndGlyphs">small,</text><text x="577.9" y="100.9" font-size="15.5" fill="#131722" textLength="21.5" lengthAdjust="spacingAndGlyphs">50,</text><text x="603.0" y="100.9" font-size="15.5" fill="#131722" textLength="11.6" lengthAdjust="spacingAndGlyphs">5,</text><text x="618.2" y="100.9" font-size="15.5" fill="#131722" textLength="12.9" lengthAdjust="spacingAndGlyphs">5,</text><text x="639.0" y="100.9" font-size="15.5" fill="#131722" textLength="23.3" lengthAdjust="spacingAndGlyphs">Atr,</text><text x="668.1" y="100.9" font-size="15.5" fill="#131722" textLength="68.1" lengthAdjust="spacingAndGlyphs">High/Low,</text><text x="740.4" y="100.9" font-size="15.5" fill="#131722" textLength="12.9" lengthAdjust="spacingAndGlyphs">3,</text><text x="758.6" y="100.9" font-size="15.5" fill="#131722" textLength="25.9" lengthAdjust="spacingAndGlyphs">0.1,</text><text x="790.1" y="100.9" font-size="15.5" fill="#131722" textLength="27.3" lengthAdjust="spacingAndGlyphs">tiny,</text><text x="824.4" y="100.9" font-size="15.5" fill="#131722" textLength="4.3" lengthAdjust="spacingAndGlyphs">,</text><text x="834.7" y="100.9" font-size="15.5" fill="#131722" textLength="12.2" lengthAdjust="spacingAndGlyphs">1,</text>
<path d="M851.8 95.5H873.7M885.6 95.5H907.1M917 95.5H940.1" stroke="#131722" stroke-width="1.1" fill="none"/>
<text x="875.3" y="100.9" font-size="15.5" fill="#131722">,</text>
<text x="908.3" y="100.9" font-size="15.5" fill="#131722">,</text>
<text x="941.0" y="100.9" font-size="15.5" fill="#131722">)</text>
<text x="953.7" y="100.9" font-size="15.5" fill="#131722" textLength="9.4" lengthAdjust="spacingAndGlyphs">ø</text>
<text x="973.5" y="100.9" font-size="15.5" fill="#089981" textLength="44.1" lengthAdjust="spacingAndGlyphs">1.1216</text>
<text x="1027.4" y="100.9" font-size="15.5" fill="#089981" textLength="44.6" lengthAdjust="spacingAndGlyphs">1.0808</text>
<text x="1080.7" y="100.9" font-size="15.5" fill="#089981" textLength="44.6" lengthAdjust="spacingAndGlyphs">1.1131</text>
<g fill="#131722"><path d="M13 773.8h9.7v11.9h-4.7v-7.4h-5z"/><circle cx="26.9" cy="776.4" r="2.7"/><path d="M32.4 773.8h4.6l-4.5 11.9h-5.3z"/></g>
<text x="42.7" y="785.8" font-size="16" fill="#131722" textLength="86.8" lengthAdjust="spacingAndGlyphs">TradingView</text>
</svg></body></html>
